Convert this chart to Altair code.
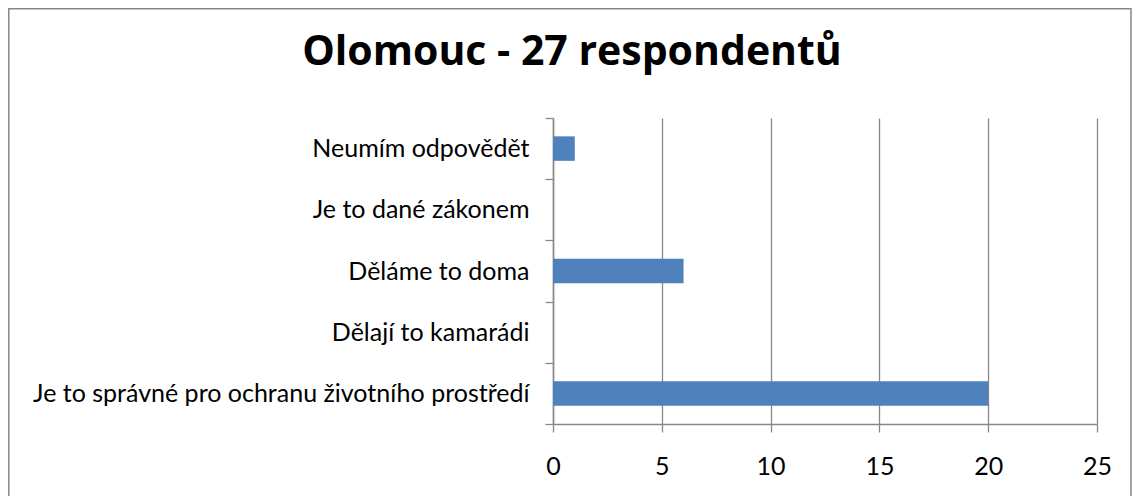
import altair as alt
import pandas as pd

categories = [
    "Neumím odpovědět",
    "Je to dané zákonem",
    "Děláme to doma",
    "Dělají to kamarádi",
    "Je to správné pro ochranu životního prostředí",
]
counts = [1, 0, 6, 0, 20]
x_ticks = [0, 5, 10, 15, 20, 25]
x_min, x_max = 0, 25
title_text = "Olomouc - 27 respondentů"

df = pd.DataFrame({"kategorie": categories, "pocet": counts})

FONT = "Lato"
GRAY = "#878787"
W, H = 544, 306
PAD_L, PAD_T, PAD_R, PAD_B = 545, 110, 35, 72

bars = alt.Chart(df).mark_bar(color="#4F81BD", height={"band": 0.4}).encode(
    y=alt.Y(
        "kategorie:N",
        sort=categories,
        scale=alt.Scale(paddingInner=0, paddingOuter=0),
        axis=alt.Axis(
            title=None,
            tickBand="extent",
            tickSize=8,
            tickColor=GRAY,
            tickWidth=1.3,
            domain=True,
            domainColor=GRAY,
            domainWidth=1.5,
            labelFont=FONT,
            labelFontSize=25,
            labelColor="#000000",
            labelPadding=16,
            labelLimit=700,
            grid=False,
        ),
    ),
    x=alt.X(
        "pocet:Q",
        scale=alt.Scale(domain=[x_min, x_max], nice=False),
        axis=alt.Axis(
            title=None,
            values=x_ticks,
            tickSize=8,
            tickColor=GRAY,
            tickWidth=1.3,
            domain=True,
            domainColor=GRAY,
            domainWidth=1.5,
            gridColor=GRAY,
            gridWidth=1.3,
            labelFont=FONT,
            labelFontSize=25,
            labelColor="#000000",
            labelPadding=22,
            labelFlush=False,
        ),
    ),
)

frame = alt.Chart(alt.Data(values=[{}])).mark_rect(
    fill=None, stroke=GRAY, strokeWidth=1.5
).encode(
    x=alt.value(-PAD_L + 0.8),
    x2=alt.value(W + PAD_R - 1),
    y=alt.value(-PAD_T + 0.8),
    y2=alt.value(H + PAD_B + 20),
)

title = alt.Chart(alt.Data(values=[{}])).mark_text(
    text=title_text,
    font="Open Sans",
    fontSize=41,
    fontWeight="bold",
    color="#000000",
    align="center",
    baseline="alphabetic",
).encode(x=alt.value(19), y=alt.value(-53))

chart = alt.layer(frame, title, bars).properties(
    width=W,
    height=H,
    background="white",
    padding={"left": PAD_L, "top": PAD_T, "right": PAD_R, "bottom": PAD_B},
    autosize=alt.AutoSizeParams(type="none"),
).configure_view(stroke=None)

chart.save("out.html", embed_options={"renderer": "svg", "actions": False})
